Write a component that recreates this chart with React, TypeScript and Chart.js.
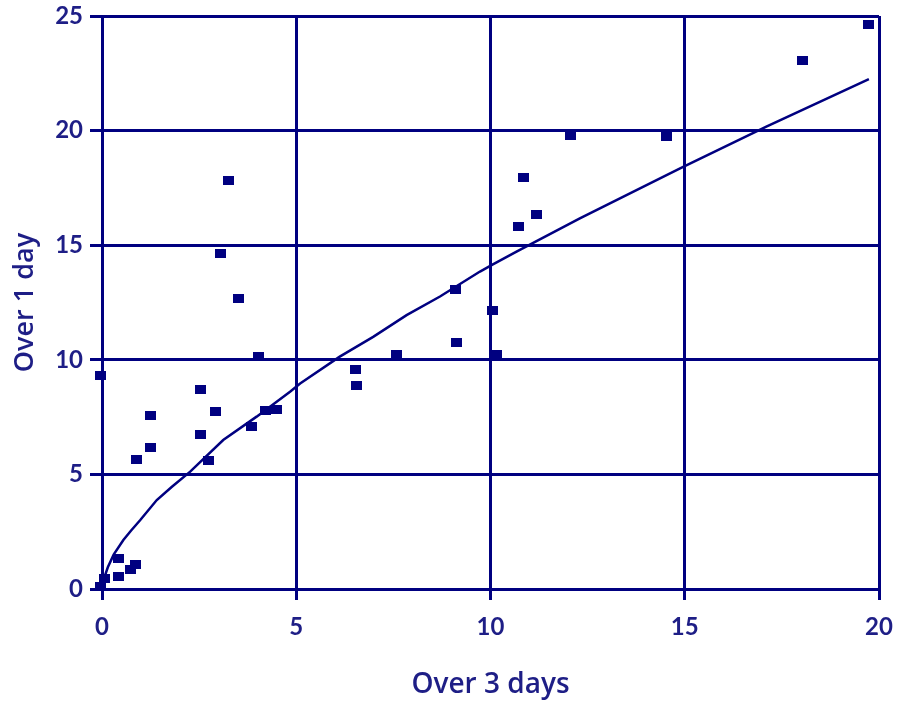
import React, { useEffect, useRef } from "react";
import { Chart, registerables } from "chart.js";

Chart.register(...registerables);

// Observed points: "Over 3 days" (x) vs "Over 1 day" (y)
const obsX = [-0.05, 4.02, 2.54, 1.24, 2.92, 2.53, 1.26, 0.88, 2.74, 3.86, 4.22, 4.5, 0.43, 0.86, 0.73, 0.43, 0.06, -0.05, 3.25, 3.05, 3.51, 9.11, 10.05, 9.12, 7.58, 10.15, 6.52, 6.55, 12.07, 14.52, 10.85, 11.18, 10.73, 18.04, 19.74];
const obsY = [9.3, 10.15, 8.71, 7.58, 7.75, 6.75, 6.18, 5.63, 5.6, 7.1, 7.77, 7.82, 1.34, 1.08, 0.86, 0.54, 0.45, 0.1, 17.83, 14.65, 12.68, 13.08, 12.16, 10.76, 10.22, 10.22, 9.58, 8.86, 19.8, 19.76, 17.96, 16.32, 15.81, 23.04, 24.65];

// Fitted curve
const fitX = [0, 0.05, 0.15, 0.3, 0.55, 0.75, 0.98, 1.41, 1.8, 2.27, 3.12, 3.98, 4.84, 5.1, 6.12, 6.98, 7.84, 8.7, 9.73, 10.05, 10.67, 12.3, 14.88, 17.1, 19.74];
const fitY = [0, 0.45, 0.95, 1.5, 2.14, 2.55, 3.0, 3.88, 4.46, 5.12, 6.5, 7.52, 8.61, 8.97, 10.14, 11.0, 11.95, 12.76, 13.85, 14.15, 14.72, 16.17, 18.35, 20.17, 22.25];

const xTicks = [0, 5, 10, 15, 20];
const yTicks = [0, 5, 10, 15, 20, 25];

const xTitle = "Over 3 days";
const yTitle = "Over 1 day";

const NAVY = "#000080";
const TEXT = "#1e1e86";

export default function App() {
  const ref = useRef<HTMLCanvasElement | null>(null);

  useEffect(() => {
    if (!ref.current) return;
    const marker = document.createElement("canvas");
    marker.width = 11;
    marker.height = 9;
    const mctx = marker.getContext("2d")!;
    mctx.fillStyle = NAVY;
    mctx.fillRect(0, 0, 11, 9);

    const scatter = obsX.map((x, i) => ({ x, y: obsY[i] }));
    const fit = fitX.map((x, i) => ({ x, y: fitY[i] }));

    const chart = new Chart(ref.current, {
      type: "scatter",
      data: {
        datasets: [
          {
            label: "fit",
            data: fit,
            showLine: true,
            borderColor: NAVY,
            borderWidth: 2.5,
            pointRadius: 0,
            tension: 0,
            clip: false,
          } as any,
          {
            label: "obs",
            data: scatter,
            pointStyle: marker,
            backgroundColor: NAVY,
            borderColor: NAVY,
            clip: false,
          } as any,
        ],
      },
      options: {
        animation: false,
        responsive: true,
        maintainAspectRatio: false,
        layout: { padding: { top: 16, right: 21, left: 0, bottom: 0 } },
        plugins: { legend: { display: false }, tooltip: { enabled: false } },
        scales: {
          x: {
            type: "linear",
            min: 0,
            max: 20,
            afterBuildTicks: (s: any) => {
              s.ticks = xTicks.map((v) => ({ value: v }));
            },
            afterFit: (s: any) => {
              s.height = 113;
              s.paddingLeft = 0;
              s.paddingRight = 0;
            },
            grid: { color: NAVY, lineWidth: 3, tickLength: 11, drawTicks: true },
            border: { color: NAVY, width: 3 },
            ticks: {
              color: TEXT,
              padding: 13,
              font: { family: "Lato", size: 24, weight: "bold" },
            },
            title: {
              display: true,
              text: xTitle,
              color: TEXT,
              padding: { top: 17, bottom: 0 },
              font: { family: "'Open Sans'", size: 28, weight: "600" },
            },
          },
          y: {
            type: "linear",
            min: 0,
            max: 25,
            afterBuildTicks: (s: any) => {
              s.ticks = yTicks.map((v) => ({ value: v }));
            },
            afterFit: (s: any) => {
              s.width = 102;
              s.paddingTop = 0;
              s.paddingBottom = 0;
            },
            grid: { color: NAVY, lineWidth: 3, tickLength: 12, drawTicks: true },
            border: { color: NAVY, width: 3 },
            ticks: {
              color: TEXT,
              padding: 7,
              font: { family: "Lato", size: 24, weight: "bold" },
            },
            title: {
              display: true,
              text: yTitle,
              color: TEXT,
              padding: { top: 9, bottom: 0 },
              font: { family: "'Open Sans'", size: 27, weight: "600" },
            },
          },
        },
      },
    });
    return () => chart.destroy();
  }, []);

  return (
    <div style={{ position: "absolute", left: 0, top: 0, width: 900, height: 702, background: "#fff" }}>
      <canvas ref={ref} />
    </div>
  );
}
